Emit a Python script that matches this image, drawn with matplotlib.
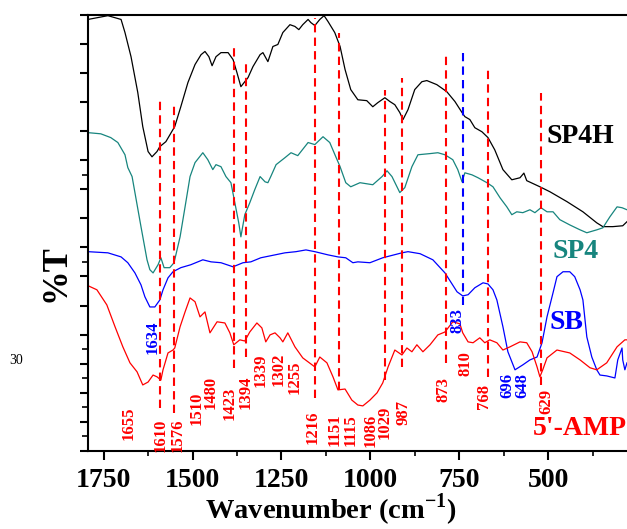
import matplotlib
matplotlib.use('Agg')
import matplotlib.pyplot as plt

plt.rcParams['font.family'] = 'Liberation Serif'
plt.rcParams['mathtext.fontset'] = 'custom'
plt.rcParams['mathtext.rm'] = 'Liberation Serif'
plt.rcParams['mathtext.bf'] = 'Liberation Serif:bold'

# SP4H (black)
sp4h_x = [1794, 1738, 1701, 1690, 1673, 1654, 1640, 1625, 1614, 1600, 1592, 1575, 1550, 1533,
          1513, 1493, 1476, 1465, 1454, 1445, 1434, 1420, 1400, 1386, 1375, 1364, 1353, 1344,
          1330, 1310, 1302, 1288, 1274, 1260, 1246, 1226, 1212, 1201, 1190, 1175, 1167, 1156,
          1142, 1130, 1119, 1100, 1085, 1071, 1055, 1035, 1010, 993, 979, 959, 945, 931, 917,
          908, 894, 875, 855, 841, 813, 785, 762, 742, 734, 720, 706, 686, 669, 650, 627, 602,
          579, 568, 560, 523, 495, 447, 402, 363, 346, 318, 290, 278]
sp4h_y = [148.3, 149.6, 148.3, 143.8, 135.5, 123.2, 111.5, 102.9, 101.1, 102.9, 104.6, 106.3,
          111.5, 118.3, 126.6, 132.8, 136.2, 137.3, 135.5, 132.4, 135.5, 136.9, 136.9, 134.5,
          130.0, 125.2, 126.9, 128.3, 132.1, 136.2, 136.9, 133.8, 139.0, 139.7, 143.8, 146.5,
          145.9, 144.8, 146.5, 148.3, 147.2, 146.2, 148.3, 149.6, 147.6, 143.8, 139.0, 131.1,
          124.2, 120.7, 120.4, 118.3, 119.7, 121.4, 120.1, 119.0, 116.3, 113.9, 117.3, 124.2,
          126.9, 127.3, 125.9, 123.5, 120.1, 116.3, 114.9, 113.9, 111.1, 109.7, 107.7, 103.5,
          96.7, 93.2, 93.9, 95.5, 92.9, 90.8, 89.1, 85.7, 82.2, 78.4, 77.1, 77.1, 77.4, 78.8]

# SP4 (teal)
sp4_x = [1794, 1758, 1730, 1710, 1690, 1682, 1670, 1662, 1645, 1628, 1620, 1611, 1597, 1589,
         1580, 1564, 1552, 1535, 1521, 1507, 1493, 1471, 1457, 1443, 1434, 1420, 1406, 1392,
         1381, 1370, 1364, 1353, 1339, 1325, 1310, 1296, 1288, 1280, 1265, 1240, 1223, 1204,
         1175, 1156, 1133, 1114, 1097, 1085, 1069, 1055, 1029, 993, 967, 953, 939, 917, 903,
         883, 866, 832, 810, 790, 768, 754, 742, 734, 714, 697, 672, 655, 635, 616, 602, 588,
         571, 551, 537, 520, 503, 486, 467, 439, 410, 391, 363, 346, 326, 306, 292, 278]
sp4_y = [109.4, 109.0, 107.7, 106.0, 101.8, 97.4, 94.3, 88.8, 77.1, 65.7, 62.3, 61.2, 64.0,
         66.4, 63.0, 63.0, 64.7, 73.6, 83.9, 94.3, 99.1, 102.5, 100.1, 96.7, 98.4, 97.7, 94.3,
         92.2, 85.3, 78.4, 73.6, 81.2, 85.3, 89.8, 94.3, 92.5, 92.2, 94.3, 98.4, 100.8, 102.5,
         101.5, 106.0, 105.3, 108.0, 106.0, 101.1, 97.7, 92.2, 90.8, 92.2, 91.5, 94.3, 96.3,
         94.3, 88.8, 90.5, 97.7, 101.8, 102.2, 102.5, 101.8, 100.1, 96.7, 92.5, 95.6, 94.9,
         93.9, 92.2, 90.8, 87.0, 83.9, 81.2, 82.2, 81.9, 82.9, 81.9, 83.6, 82.2, 82.2, 79.5,
         77.7, 76.0, 75.0, 76.0, 76.7, 80.5, 83.9, 83.6, 82.9]

# SB (blue)
sb_x = [1794, 1738, 1701, 1682, 1662, 1645, 1634, 1620, 1606, 1592, 1583, 1569, 1555, 1533,
        1505, 1471, 1448, 1420, 1386, 1358, 1336, 1308, 1268, 1240, 1209, 1181, 1156, 1119,
        1091, 1069, 1049, 1035, 1001, 965, 911, 894, 860, 824, 790, 756, 740, 725, 706, 683,
        669, 655, 644, 627, 613, 593, 571, 551, 531, 517, 503, 486, 475, 458, 439, 425, 410,
        402, 391, 377, 363, 354, 335, 312, 304, 292, 290, 284, 278]
sb_y = [68.5, 68.1, 66.7, 64.7, 61.2, 57.1, 53.0, 49.5, 49.5, 51.9, 55.4, 59.5, 61.6, 63.0,
        64.0, 65.7, 65.0, 64.7, 63.3, 64.7, 65.0, 66.4, 67.4, 68.1, 68.5, 69.1, 68.5, 67.4,
        66.7, 66.4, 64.7, 65.0, 64.7, 66.4, 68.1, 68.5, 67.8, 65.7, 61.2, 54.7, 53.3, 53.7,
        56.1, 57.8, 57.4, 55.4, 51.9, 42.7, 34.1, 27.9, 29.6, 31.3, 32.3, 37.2, 46.1, 54.4,
        59.9, 61.6, 61.6, 59.9, 55.4, 51.9, 39.2, 32.3, 27.9, 26.1, 25.8, 25.1, 31.3, 35.4,
        31.3, 27.9, 30.3]

# 5'-AMP (red)
amp_x = [1794, 1769, 1741, 1718, 1696, 1676, 1656, 1640, 1625, 1611, 1600, 1589, 1583, 1569,
         1555, 1550, 1535, 1521, 1507, 1493, 1479, 1465, 1451, 1431, 1409, 1395, 1384, 1367,
         1353, 1339, 1319, 1305, 1294, 1282, 1268, 1254, 1246, 1232, 1212, 1190, 1156, 1142,
         1122, 1105, 1091, 1071, 1052, 1035, 1021, 1001, 981, 965, 950, 931, 911, 897, 883,
         869, 852, 832, 810, 790, 768, 748, 740, 725, 711, 692, 678, 664, 644, 627, 607, 579,
         560, 545, 531, 523, 515, 503, 475, 439, 410, 382, 363, 335, 306, 284, 278]
amp_y = [56.8, 55.4, 50.2, 42.7, 35.8, 30.3, 27.2, 22.7, 23.7, 26.1, 25.5, 24.4, 27.9, 33.7,
         34.7, 35.4, 42.7, 47.8, 52.6, 51.3, 46.1, 47.8, 40.6, 44.4, 44.0, 40.6, 36.5, 38.2,
         37.8, 40.9, 44.0, 42.3, 37.5, 39.9, 40.6, 38.9, 37.5, 40.6, 35.8, 32.0, 28.9, 32.3,
         30.3, 25.5, 21.0, 21.3, 17.5, 15.8, 15.5, 17.5, 20.0, 23.4, 28.9, 34.7, 33.0, 35.4,
         34.1, 36.5, 34.1, 36.5, 39.9, 40.9, 44.4, 43.7, 40.6, 37.5, 37.2, 38.9, 37.2, 38.2,
         37.2, 34.7, 35.8, 37.5, 37.2, 34.1, 28.9, 25.5, 27.9, 32.0, 34.7, 33.7, 31.3, 28.6,
         27.9, 30.3, 35.8, 38.2, 38.2]

# dashed marker lines (where they sit on the drawn axis)
red_line_x = [1592, 1552, 1384, 1351, 1155, 1089, 959, 912, 786, 668, 519]
red_line_top = [120.5, 118.4, 139.7, 133.9, 148.8, 143.7, 124.2, 128.2, 135.9, 131.6, 123.0]
red_line_bottom = [14.8, 13.1, 28.6, 32.3, 18.2, 21.0, 24.4, 28.9, 30.3, 25.5, 22.7]
blue_line_x = [739]
blue_line_top = [136.6]
blue_line_bottom = [50.2]

# peak labels
peak_text = ['1655', '1610', '1576', '1510', '1480', '1423', '1394', '1339', '1302', '1255',
             '1216', '1151', '1115', '1086', '1029', '987', '873', '810', '768', '629',
             '1634', '833', '696', '648']
peak_x = [1679, 1591, 1541, 1489, 1449, 1395, 1350, 1308, 1258, 1212,
          1161, 1099, 1054, 999, 959, 908, 793, 731, 680, 506,
          1611, 756, 615, 572]
peak_y = [9.6, 5.5, 5.5, 14.8, 20.0, 16.5, 20.0, 27.9, 27.9, 25.5,
          8.3, 7.2, 7.2, 7.2, 10.0, 13.4, 21.3, 29.9, 18.6, 17.2,
          39.2, 44.7, 22.4, 22.4]
peak_color = ['red'] * 20 + ['blue'] * 4

series_names = ['SP4H', 'SP4', 'SB', "5'-AMP"]
series_colors = ['black', '#17857e', 'blue', 'red']
name_x = [408, 423, 447, 410]
name_y = [108.0, 68.5, 44.0, 7.9]

fig = plt.figure(figsize=(6.27, 5.29), dpi=100)
ax = fig.add_axes([88 / 627, 1 - 451 / 529, 539 / 627, 436.5 / 529])

ax.plot(sp4h_x, sp4h_y, color=series_colors[0], lw=0.9)
ax.plot(sp4_x, sp4_y, color=series_colors[1], lw=0.9)
ax.plot(sb_x, sb_y, color=series_colors[2], lw=0.9)
ax.plot(amp_x, amp_y, color=series_colors[3], lw=0.9)

ax.vlines(red_line_x, red_line_bottom, red_line_top, colors='red',
          linestyles=(0, (4, 2.5)), lw=1.5)
ax.vlines(blue_line_x, blue_line_bottom, blue_line_top, colors='blue',
          linestyles=(0, (4, 2.5)), lw=1.5)

for t, x, y, c in zip(peak_text, peak_x, peak_y, peak_color):
    ax.text(x, y, t, color=c, rotation=90, ha='center', va='center',
            fontsize=12, fontweight='bold')

for t, x, y, c in zip(series_names, name_x, name_y, series_colors):
    ax.text(x, y, t, color=c, ha='center', va='center', fontsize=20, fontweight='bold')

ax.set_xlim(1794, 278)
ax.set_ylim(0, 150)
ax.set_xticks([1750, 1500, 1250, 1000, 750, 500])
ax.set_xticks([1625, 1375, 1125, 875, 625, 375], minor=True)
ax.set_yticks(range(0, 151, 10))
ax.set_yticks([5, 15, 25, 35, 65, 95], minor=True)
ax.set_yticklabels([])
ax.tick_params(axis='x', which='major', direction='out', length=6.5, width=1.5,
               labelsize=20, pad=5.5)
ax.tick_params(axis='x', which='minor', direction='out', length=3.5, width=1.2)
ax.tick_params(axis='y', which='major', direction='out', length=5.8, width=1.5)
ax.tick_params(axis='y', which='minor', direction='out', length=4, width=1.2)
for lab in ax.get_xticklabels():
    lab.set_fontweight('bold')

ax.spines['right'].set_visible(False)
for s in ['left', 'top', 'bottom']:
    ax.spines[s].set_linewidth(1.5)

ax.set_xlabel(r'Wavenumber (cm$^{\mathbf{-1}}$)', fontsize=20.5, fontweight='bold')
ax.xaxis.label.set_va('baseline')
ax.xaxis.set_label_coords(0.451, -0.155)
ax.set_ylabel('%T', fontsize=25, fontweight='bold')
ax.yaxis.label.set_va('baseline')
ax.yaxis.set_label_coords(-0.043, 0.408)

fig.text(16 / 627, 1 - 361 / 529, '30', fontsize=10, ha='center', va='center')

fig.savefig('out.png', dpi=100)
